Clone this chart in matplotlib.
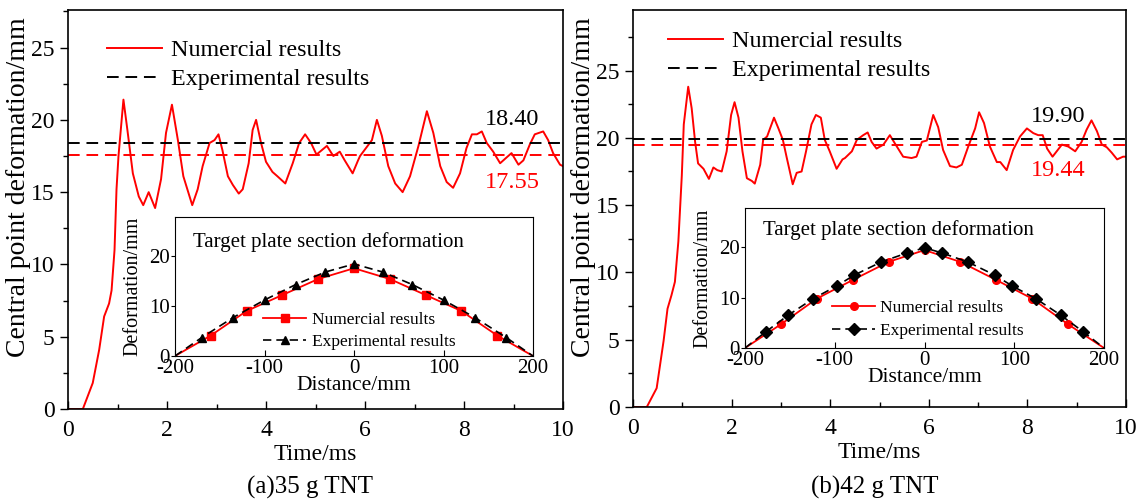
import numpy as np
import matplotlib
matplotlib.use("Agg")
import matplotlib.pyplot as plt
from matplotlib.ticker import MultipleLocator

plt.rcParams["font.family"] = ["Liberation Serif", "DejaVu Serif"]
plt.rcParams["axes.unicode_minus"] = False

# ---- central point deformation vs time, 35 g TNT ----
t_35 = [0.00, 0.30, 0.50, 0.63, 0.73, 0.83, 0.88, 0.94, 0.98, 1.02, 1.12,
        1.20, 1.31, 1.43, 1.52, 1.63, 1.76, 1.88, 1.98, 2.10, 2.22, 2.33,
        2.51, 2.62, 2.72, 2.86, 2.96, 3.04, 3.12, 3.23, 3.33, 3.45, 3.53,
        3.65, 3.73, 3.80, 3.90, 4.00, 4.13, 4.23, 4.39, 4.54, 4.67, 4.79,
        4.91, 5.02, 5.23, 5.36, 5.49, 5.59, 5.75, 5.86, 5.90, 6.14, 6.24,
        6.34, 6.47, 6.61, 6.76, 6.91, 7.08, 7.25, 7.38, 7.52, 7.65, 7.78,
        7.92, 8.05, 8.16, 8.26, 8.36, 8.46, 8.59, 8.73, 8.86, 8.96, 9.10,
        9.20, 9.33, 9.43, 9.60, 9.70, 9.80, 9.94, 10.00]
d_35 = [0.0, 0.0, 1.8, 4.1, 6.4, 7.3, 8.2, 11.0, 15.2, 17.5, 21.4,
        19.3, 16.3, 14.7, 14.1, 15.0, 13.9, 15.9, 19.1, 21.05, 18.6, 16.1,
        14.1, 15.2, 16.8, 18.4, 18.6, 19.0, 17.9, 16.1, 15.5, 14.9, 15.2,
        17.0, 19.3, 20.0, 18.4, 17.1, 16.4, 16.1, 15.6, 17.0, 18.4, 19.0,
        18.4, 17.6, 18.2, 17.5, 17.8, 17.2, 16.3, 17.2, 17.5, 18.6, 20.0,
        18.9, 16.8, 15.6, 15.0, 16.1, 18.2, 20.6, 19.1, 16.8, 15.7, 15.3,
        16.3, 18.05, 19.0, 19.0, 19.2, 18.4, 17.8, 17.0, 17.4, 17.7, 16.9,
        17.2, 18.3, 19.0, 19.2, 18.6, 17.7, 16.9, 16.8]

# ---- central point deformation vs time, 42 g TNT ----
t_42 = [0.00, 0.28, 0.48, 0.62, 0.70, 0.78, 0.85, 0.92, 0.99, 1.03, 1.12,
        1.19, 1.26, 1.32, 1.43, 1.54, 1.63, 1.71, 1.80, 1.90, 1.99, 2.06,
        2.14, 2.22, 2.31, 2.41, 2.47, 2.58, 2.64, 2.72, 2.86, 2.95, 3.04,
        3.12, 3.24, 3.32, 3.42, 3.51, 3.62, 3.71, 3.81, 3.89, 3.99, 4.13,
        4.25, 4.30, 4.44, 4.54, 4.67, 4.76, 4.84, 4.94, 5.08, 5.21, 5.31,
        5.48, 5.65, 5.75, 5.86, 5.96, 6.09, 6.19, 6.29, 6.43, 6.56, 6.67,
        6.80, 6.94, 7.02, 7.12, 7.24, 7.38, 7.45, 7.58, 7.71, 7.85, 7.99,
        8.12, 8.22, 8.31, 8.40, 8.51, 8.70, 8.83, 8.97, 9.10, 9.20, 9.30,
        9.41, 9.51, 9.61, 9.71, 9.82, 9.94, 10.00]
d_42 = [0.0, 0.0, 1.4, 4.9, 7.3, 8.3, 9.3, 12.3, 17.2, 21.0, 23.8,
        22.2, 19.7, 18.1, 17.7, 16.95, 17.8, 17.6, 17.5, 19.0, 21.7, 22.65,
        21.5, 19.0, 17.0, 16.8, 16.6, 18.0, 19.85, 20.1, 21.5, 20.7, 19.85,
        18.5, 16.55, 17.4, 17.5, 19.0, 21.0, 21.7, 21.5, 19.85, 19.0, 17.7,
        18.4, 18.5, 19.0, 19.85, 20.2, 20.4, 19.7, 19.2, 19.5, 20.2, 19.6,
        18.6, 18.5, 18.6, 19.7, 19.8, 21.7, 20.8, 19.1, 17.9, 17.8, 18.0,
        19.35, 20.7, 21.9, 21.1, 19.35, 18.2, 18.2, 17.6, 19.1, 20.1, 20.7,
        20.35, 20.2, 20.2, 19.2, 18.6, 19.5, 19.35, 19.0, 19.7, 20.6, 21.3,
        20.5, 19.5, 19.3, 18.9, 18.4, 18.6, 18.6]

# final (residual) central deformation
num_35, exp_35 = 17.55, 18.40
num_42, exp_42 = 19.44, 19.90

# ---- plate section profiles ----
sec_num_x = [-200, -160, -120, -80, -40, 0, 40, 80, 120, 160, 200]
sec_num_35 = [0, 4.1, 9.0, 12.2, 15.4, 17.55, 15.4, 12.2, 9.0, 4.1, 0]
sec_exp_x_35 = [-200, -170, -135, -100, -65, -32, 0, 32, 65, 100, 135, 170, 200]
sec_exp_35 = [0, 3.7, 7.7, 11.2, 14.3, 16.8, 18.40, 16.8, 14.3, 11.2, 7.7, 3.7, 0]

sec_num_42 = [0, 4.7, 9.8, 13.5, 17.1, 19.44, 17.1, 13.5, 9.8, 4.7, 0]
sec_exp_x_42 = [-200, -177, -152, -124, -98, -78, -48, -19, 0, 19, 48, 78, 98,
                124, 152, 177, 200]
sec_exp_42 = [0, 3.2, 6.5, 9.8, 12.3, 14.5, 17.1, 18.9, 19.90, 18.9, 17.1,
              14.5, 12.3, 9.8, 6.5, 3.2, 0]

W, H = 1145, 501


def px_rect(x0, y0, x1, y1):
    """pixel box (top-left origin) -> figure fraction rect"""
    return [x0 / W, 1 - y1 / H, (x1 - x0) / W, (y1 - y0) / H]


def draw_panel(fig, box, inset_box, t, d, num, exp, ymax, val_x, val_up, val_dn,
               leg_anchor, ylab_xy, sec_exp_x, sec_exp, sec_num, exp_marker, num_marker,
               inset_leg_anchor, title_y, caption, cap_x):
    ax = fig.add_axes(px_rect(*box))
    ax.plot(t, d, color="red", lw=1.4, label="Numercial results")
    ax.axhline(exp, color="black", ls=(0, (6, 3.5)), lw=1.4, label="Experimental results")
    ax.axhline(num, color="red", ls=(0, (6, 3.5)), lw=1.4)
    ax.set_xlim(0, 10)
    ax.set_ylim(0, ymax)
    ax.xaxis.set_major_locator(MultipleLocator(2))
    ax.xaxis.set_minor_locator(MultipleLocator(1))
    ax.yaxis.set_major_locator(MultipleLocator(5))
    ax.yaxis.set_minor_locator(MultipleLocator(2.5))
    ax.tick_params(axis="x", which="both", direction="in", labelsize=17, pad=8)
    ax.tick_params(axis="y", which="both", direction="out", labelsize=17)
    ax.tick_params(which="major", length=6, width=1)
    ax.tick_params(which="minor", length=3.5, width=1)
    for s in ax.spines.values():
        s.set_linewidth(1.2)
    ax.set_xlabel("Time/ms", fontsize=17, labelpad=2)
    ax.set_ylabel("Central point deformation/mm", fontsize=20)
    ax.yaxis.set_label_coords(*ylab_xy)
    ax.text(val_x, val_up, f"{exp:.2f}", color="black", fontsize=17.5, ha="center", va="center")
    ax.text(val_x, val_dn, f"{num:.2f}", color="red", fontsize=17.5, ha="center", va="center")
    ax.legend(loc="upper left", bbox_to_anchor=leg_anchor, frameon=False, fontsize=17.3,
              handlelength=2.3, handletextpad=0.35, labelspacing=0.3,
              borderaxespad=0, borderpad=0)
    ax.text(cap_x, 0.027, caption, transform=fig.transFigure, fontsize=18,
            ha="center", va="center")

    ins = fig.add_axes(px_rect(*inset_box))
    skip = slice(1, -1)
    ins.plot(sec_num_x, sec_num, color="red", lw=1.3, marker=num_marker, ms=5.5,
             markevery=skip, label="Numercial results")
    ins.plot(sec_exp_x, sec_exp, color="black", lw=1.2, ls=(0, (5, 3)), marker=exp_marker,
             ms=6, markevery=skip, label="Experimental results")
    ins.set_xlim(-200, 200)
    ins.set_ylim(0, 27.8)
    ins.xaxis.set_major_locator(MultipleLocator(100))
    ins.yaxis.set_major_locator(MultipleLocator(10))
    ins.tick_params(axis="x", direction="in", labelsize=15, pad=2, length=4)
    ins.tick_params(axis="y", direction="out", labelsize=15, pad=1, length=3)
    ins.set_xlabel("Distance/mm", fontsize=15.5, labelpad=-1.5)
    ins.set_ylabel("Deformation/mm", fontsize=14.5)
    ins.yaxis.set_label_coords(-0.09, 0.5)
    ins.text(0.05, title_y, "Target plate section deformation", transform=ins.transAxes,
             fontsize=15, ha="left", va="center")
    ins.legend(loc="upper left", bbox_to_anchor=inset_leg_anchor, frameon=False, fontsize=12.5,
               handlelength=2.5, handletextpad=0.3, labelspacing=0.38,
               borderaxespad=0, borderpad=0)
    return ax, ins


fig = plt.figure(figsize=(W / 100, H / 100), dpi=100)

draw_panel(fig, (68, 10, 563, 409), (175, 217, 533, 356), t_35, d_35, num_35, exp_35,
           27.6, 8.97, 20.0, 15.7, (0.079, 0.927), (-0.074, 0.556),
           sec_exp_x_35, sec_exp_35, sec_num_35, "^", "s", (0.246, 0.32), 0.82,
           "(a)35 g TNT", 310 / W)
draw_panel(fig, (633, 10, 1126, 407), (745, 208, 1104, 348), t_42, d_42, num_42, exp_42,
           29.5, 8.62, 21.6, 17.6, (0.071, 0.948), (-0.076, 0.555),
           sec_exp_x_42, sec_exp_42, sec_num_42, "D", "o", (0.242, 0.345), 0.843,
           "(b)42 g TNT", 875 / W)

fig.savefig("out.png", dpi=100)
